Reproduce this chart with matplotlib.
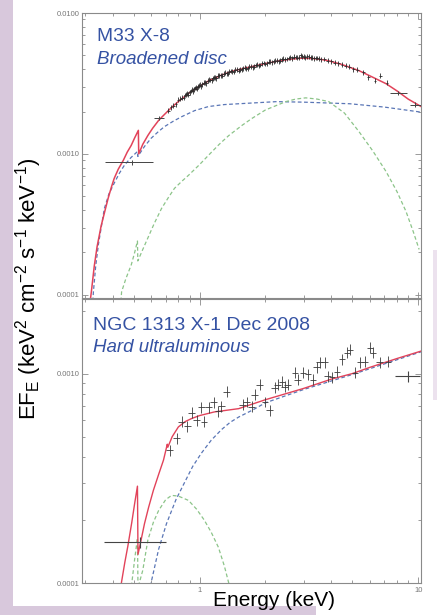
import matplotlib
matplotlib.use("Agg")
import matplotlib.pyplot as plt
from matplotlib.patches import Rectangle
from matplotlib.ticker import FixedLocator, NullFormatter, FixedFormatter
import numpy as np

plt.rcParams['font.family'] = ['Liberation Sans', 'DejaVu Sans']
plt.rcParams['mathtext.fontset'] = 'custom'
plt.rcParams['mathtext.rm'] = 'Liberation Sans'
plt.rcParams['mathtext.it'] = 'Liberation Sans:italic'

# ---------------- Top panel: M33 X-8 (broadened disc) ----------------
top_total_E = [0.316, 0.32, 0.33, 0.34, 0.355, 0.37, 0.382, 0.395, 0.407, 0.425, 0.448, 0.467,
               0.487, 0.505, 0.525, 0.527, 0.55, 0.58, 0.61, 0.65, 0.685, 0.72, 0.765, 0.81,
               0.9, 1.0, 1.1, 1.24, 1.4, 1.6, 1.8, 2.0, 2.3, 2.6, 2.94, 3.3, 3.6, 3.9, 4.5,
               5.36, 6.2, 7.13, 8.0, 9.0, 10.3]
top_total_F = [9e-5, 1.05e-4, 1.6e-4, 2.2e-4, 3.1e-4, 4.0e-4, 4.85e-4, 5.8e-4, 6.7e-4, 7.8e-4,
               9.0e-4, 1.03e-3, 1.15e-3, 1.3e-3, 1.47e-3, 1.0e-3, 1.17e-3, 1.35e-3, 1.52e-3,
               1.73e-3, 1.88e-3, 2.03e-3, 2.22e-3, 2.39e-3, 2.72e-3, 3.02e-3, 3.3e-3, 3.59e-3,
               3.85e-3, 4.05e-3, 4.22e-3, 4.38e-3, 4.57e-3, 4.7e-3, 4.78e-3, 4.75e-3, 4.68e-3,
               4.58e-3, 4.3e-3, 3.9e-3, 3.5e-3, 3.15e-3, 2.8e-3, 2.45e-3, 2.17e-3]

top_disc_E = [0.325, 0.327, 0.335, 0.345, 0.355, 0.367, 0.385, 0.407, 0.43, 0.453, 0.485, 0.52,
              0.522, 0.56, 0.6, 0.645, 0.69, 0.76, 0.83, 0.95, 1.1, 1.3, 1.51, 2.25, 3.0, 4.87,
              7.0, 10.3]
top_disc_F = [9e-5, 1.05e-4, 1.6e-4, 2.3e-4, 3.0e-4, 4.1e-4, 5.2e-4, 6.2e-4, 7.3e-4, 8.3e-4,
              9.4e-4, 1.04e-3, 9.6e-4, 1.13e-3, 1.29e-3, 1.43e-3, 1.56e-3, 1.71e-3, 1.84e-3,
              2.03e-3, 2.17e-3, 2.24e-3, 2.27e-3, 2.35e-3, 2.33e-3, 2.27e-3, 2.15e-3, 1.98e-3]

top_comp_E = [0.437, 0.44, 0.46, 0.487, 0.505, 0.52, 0.522, 0.55, 0.58, 0.62, 0.67, 0.72,
              0.768, 0.83, 0.89, 1.0, 1.1, 1.23, 1.36, 1.56, 1.73, 2.0, 2.48, 2.75, 3.06, 3.45,
              3.9, 4.6, 5.36, 6.2, 7.13, 8.0, 8.8, 9.5, 10.1]
top_comp_F = [9e-5, 1.05e-4, 1.3e-4, 1.63e-4, 2.0e-4, 2.41e-4, 1.74e-4, 2.1e-4, 2.53e-4,
              3.2e-4, 4.1e-4, 4.9e-4, 5.7e-4, 6.4e-4, 7.05e-4, 8.4e-4, 9.8e-4, 1.17e-3,
              1.35e-3, 1.59e-3, 1.78e-3, 2.05e-3, 2.35e-3, 2.45e-3, 2.5e-3, 2.45e-3, 2.35e-3,
              1.95e-3, 1.44e-3, 1.05e-3, 7.5e-4, 5.4e-4, 3.9e-4, 2.8e-4, 2.1e-4]

top_data_E = [0.72, 0.74, 0.76, 0.78, 0.80, 0.815, 0.83, 0.845, 0.86, 0.87, 0.88, 0.89, 0.90,
              0.91, 0.92, 0.93, 0.94, 0.95, 0.96, 0.97, 0.98, 0.99, 1.00, 1.015, 1.03, 1.045,
              1.06, 1.075, 1.09, 1.105, 1.12, 1.135, 1.15, 1.165, 1.18, 1.195, 1.21, 1.23,
              1.25, 1.27, 1.29, 1.31, 1.33, 1.35, 1.37, 1.39, 1.41, 1.435, 1.46, 1.485, 1.51,
              1.535, 1.56, 1.585, 1.61, 1.635, 1.66, 1.69, 1.72, 1.75, 1.78, 1.81, 1.84, 1.87,
              1.90, 1.935, 1.97, 2.0, 2.04, 2.075, 2.11, 2.145, 2.18, 2.22, 2.26, 2.3, 2.34,
              2.38, 2.42, 2.465, 2.51, 2.555, 2.60, 2.65, 2.70, 2.75, 2.80, 2.85, 2.90, 2.95,
              3.00, 3.05, 3.11, 3.165, 3.22, 3.28, 3.34, 3.4, 3.46, 3.52, 3.59, 3.72, 3.86,
              4.00, 4.15, 4.31, 4.48, 4.66, 4.85, 5.05, 5.27, 5.6, 5.9, 6.35, 6.7, 7.2]
top_data_F = [2.03e-3, 2.14e-3, 2.2e-3, 2.25e-3, 2.42e-3, 2.46e-3, 2.5e-3, 2.5e-3, 2.62e-3,
              2.66e-3, 2.7e-3, 2.64e-3, 2.74e-3, 2.8e-3, 2.85e-3, 2.78e-3, 2.88e-3, 2.94e-3,
              2.97e-3, 2.9e-3, 3.0e-3, 3.05e-3, 3.1e-3, 3.02e-3, 3.12e-3, 3.2e-3, 3.22e-3,
              3.18e-3, 3.3e-3, 3.36e-3, 3.35e-3, 3.33e-3, 3.45e-3, 3.5e-3, 3.48e-3, 3.45e-3,
              3.58e-3, 3.63e-3, 3.62e-3, 3.6e-3, 3.72e-3, 3.76e-3, 3.75e-3, 3.72e-3, 3.84e-3,
              3.88e-3, 3.86e-3, 3.84e-3, 3.95e-3, 3.99e-3, 3.9e-3, 3.95e-3, 3.98e-3, 4.07e-3,
              4.1e-3, 4.02e-3, 4.05e-3, 4.16e-3, 4.2e-3, 4.13e-3, 4.15e-3, 4.28e-3, 4.3e-3,
              4.24e-3, 4.28e-3, 4.4e-3, 4.42e-3, 4.35e-3, 4.4e-3, 4.52e-3, 4.5e-3, 4.47e-3,
              4.55e-3, 4.6e-3, 4.62e-3, 4.55e-3, 4.6e-3, 4.7e-3, 4.75e-3, 4.68e-3, 4.72e-3,
              4.8e-3, 4.85e-3, 4.78e-3, 4.9e-3, 4.88e-3, 4.82e-3, 4.84e-3, 5.0e-3, 4.95e-3,
              4.9e-3, 4.86e-3, 4.95e-3, 4.9e-3, 4.85e-3, 4.82e-3, 4.78e-3, 4.8e-3, 4.8e-3,
              4.75e-3, 4.7e-3, 4.72e-3, 4.6e-3, 4.55e-3, 4.45e-3, 4.4e-3, 4.3e-3, 4.22e-3,
              4.15e-3, 4.0e-3, 3.95e-3, 3.8e-3, 3.5e-3, 3.3e-3, 3.59e-3, 3.2e-3]
# wide bins (centre, low edge, high edge, flux)
top_wide_E = [0.49, 0.655, 8.1, 9.7]
top_wide_lo = [0.37, 0.62, 7.45, 9.2]
top_wide_hi = [0.615, 0.69, 8.9, 10.3]
top_wide_F = [8.7e-4, 1.81e-3, 2.72e-3, 2.24e-3]

# ---------------- Bottom panel: NGC 1313 X-1 ----------------
bot_total_E = [0.436, 0.439, 0.455, 0.47, 0.49, 0.505, 0.52, 0.523, 0.54, 0.56, 0.585, 0.615,
               0.65, 0.684, 0.712, 0.716, 0.75, 0.8, 0.86, 0.92, 1.0, 1.17, 1.51, 2.0, 3.0,
               4.0, 5.0, 6.0, 8.0, 10.3]
bot_total_F = [9e-5, 1.0e-4, 1.25e-4, 1.5e-4, 1.95e-4, 2.4e-4, 2.9e-4, 1.37e-4, 1.6e-4,
               1.92e-4, 2.3e-4, 2.77e-4, 3.3e-4, 3.86e-4, 4.6e-4, 4.45e-4, 5.0e-4, 5.56e-4,
               5.9e-4, 6.1e-4, 6.3e-4, 6.56e-4, 6.8e-4, 7.5e-4, 8.5e-4, 9.4e-4, 1.0e-3,
               1.07e-3, 1.18e-3, 1.28e-3]

bot_pl_E = [0.595, 0.6, 0.65, 0.706, 0.78, 0.85, 0.93, 1.02, 1.13, 1.26, 1.38, 1.51, 1.75,
            2.0, 3.0, 5.0, 10.3]
bot_pl_F = [9e-5, 1.0e-4, 1.45e-4, 1.92e-4, 2.5e-4, 2.99e-4, 3.6e-4, 4.17e-4, 4.8e-4, 5.4e-4,
            5.85e-4, 6.2e-4, 6.7e-4, 7.25e-4, 8.4e-4, 9.9e-4, 1.27e-3]

bot_soft_E = [0.486, 0.49, 0.505, 0.52, 0.523, 0.55, 0.58, 0.615, 0.65, 0.7, 0.745, 0.8,
              0.89, 0.97, 1.05, 1.13, 1.22, 1.3, 1.36, 1.38]
bot_soft_F = [9e-5, 1.0e-4, 1.3e-4, 1.64e-4, 9.5e-5, 1.15e-4, 1.6e-4, 1.95e-4, 2.22e-4,
              2.5e-4, 2.62e-4, 2.6e-4, 2.48e-4, 2.25e-4, 2.0e-4, 1.75e-4, 1.48e-4, 1.2e-4,
              1.0e-4, 9.5e-5]

bot_data_E = [0.73, 0.785, 0.83, 0.88, 0.92, 0.97, 1.02, 1.05, 1.1, 1.16, 1.22, 1.26, 1.33,
              1.575, 1.64, 1.73, 1.79, 1.885, 1.99, 2.09, 2.21, 2.28, 2.38, 2.45, 2.53, 2.73,
              2.81, 2.97, 3.13, 3.3, 3.44, 3.55, 3.74, 3.86, 4.03, 4.25, 4.48, 4.72, 4.88,
              5.14, 5.42, 5.71, 6.02, 6.21, 6.68, 7.27]
bot_data_F = [4.3e-4, 4.9e-4, 5.9e-4, 5.6e-4, 6.5e-4, 6.0e-4, 6.9e-4, 5.9e-4, 6.9e-4, 7.3e-4,
              6.6e-4, 7.0e-4, 8.2e-4, 7.1e-4, 7.33e-4, 6.94e-4, 7.93e-4, 8.85e-4, 7.33e-4,
              6.7e-4, 8.57e-4, 8.85e-4, 9.15e-4, 8.66e-4, 8.85e-4, 1.01e-3, 9.36e-4, 1.01e-3,
              9.9e-4, 9.36e-4, 1.07e-3, 1.13e-3, 1.13e-3, 9.7e-4, 9.6e-4, 1.02e-3, 1.17e-3,
              1.26e-3, 1.30e-3, 1.01e-3, 1.13e-3, 1.14e-3, 1.33e-3, 1.26e-3, 1.13e-3, 1.14e-3]
bot_wide_E = [0.536, 8.97]
bot_wide_lo = [0.367, 7.84]
bot_wide_hi = [0.706, 10.2]
bot_wide_F = [1.57e-4, 9.7e-4]

y_tick_vals = [1e-4, 1e-3, 1e-2]
y_tick_labels = ["0.0001", "0.0010", "0.0100"]
x_tick_vals = [1, 10]
x_tick_labels = ["1", "10"]

RED = '#e2435a'
BLUE = '#5a76b6'
GREEN = '#8cc489'
DATA = '#2b2b2b'
TITLE = '#3552a3'
GREY = '#8a8a8a'

W, H = 438, 615
fig = plt.figure(figsize=(W / 100, H / 100), dpi=100)
fig.patch.set_facecolor('white')
# decorative lavender background bands
fig.patches.append(Rectangle((0, 0), 13 / W, 1, transform=fig.transFigure,
                             facecolor='#d8c8dc', edgecolor='none', zorder=0))
fig.patches.append(Rectangle((0, 0), 316 / W, 9 / H, transform=fig.transFigure,
                             facecolor='#d8c8dc', edgecolor='none', zorder=0))
fig.patches.append(Rectangle((433 / W, 1 - 400 / H), 4 / W, 150 / H, transform=fig.transFigure,
                             facecolor='#ece2ee', edgecolor='none', zorder=0))

axL, axR = 82 / W, 421 / W
ax1 = fig.add_axes([axL, 1 - 298 / H, axR - axL, (298 - 13) / H])
ax2 = fig.add_axes([axL, 1 - 583 / H, axR - axL, (583 - 299) / H])


def style(ax, ylo, yhi, show_x):
    ax.set_xscale('log')
    ax.set_yscale('log')
    ax.set_xlim(0.29, 10.3)
    ax.set_ylim(ylo, yhi)
    for s in ax.spines.values():
        s.set_color(GREY)
        s.set_linewidth(0.8)
    ax.tick_params(which='both', direction='in', top=True, right=True, colors=GREY,
                   labelsize=5.5, labelcolor='#777777', width=0.6)
    ax.tick_params(which='major', length=4.5)
    ax.tick_params(which='minor', length=2.5)
    ax.xaxis.set_major_locator(FixedLocator(x_tick_vals))
    ax.xaxis.set_minor_locator(FixedLocator([0.3, 0.4, 0.5, 0.6, 0.7, 0.8, 0.9,
                                             2, 3, 4, 5, 6, 7, 8, 9]))
    ax.xaxis.set_minor_formatter(NullFormatter())
    if show_x:
        ax.xaxis.set_major_formatter(FixedFormatter(x_tick_labels))
    else:
        ax.xaxis.set_major_formatter(NullFormatter())
    ax.yaxis.set_major_locator(FixedLocator(y_tick_vals))
    ax.yaxis.set_major_formatter(FixedFormatter(y_tick_labels))
    ax.yaxis.set_minor_locator(FixedLocator([m * 10.0 ** d for d in (-4, -3) for m in range(2, 10)]))
    ax.yaxis.set_minor_formatter(NullFormatter())
    ax.tick_params(axis='y', pad=2)
    ax.tick_params(axis='x', pad=3)


style(ax1, 0.95e-4, 1.0e-2, False)
style(ax2, 1.0e-4, 2.27e-3, True)

# top panel
ax1.plot(top_disc_E, top_disc_F, ls=(0, (3, 2)), color=BLUE, lw=0.9)
ax1.plot(top_comp_E, top_comp_F, ls=(0, (3, 2)), color=GREEN, lw=0.9)
ax1.plot(top_total_E, top_total_F, color=RED, lw=1.1)
te = np.array(top_data_E)
tf = np.array(top_data_F)
ax1.errorbar(te, tf, xerr=[te * 0.015, te * 0.015], yerr=[tf * 0.04, tf * 0.04],
             fmt='none', ecolor=DATA, elinewidth=0.6)
we = np.array(top_wide_E)
wf = np.array(top_wide_F)
ax1.errorbar(we, wf, xerr=[we - np.array(top_wide_lo), np.array(top_wide_hi) - we],
             yerr=[wf * 0.035, wf * 0.035], fmt='none', ecolor='#444444', elinewidth=0.7)
ax1.text(0.044, 0.902, 'M33 X-8', transform=ax1.transAxes, color=TITLE, fontsize=13.8)
ax1.text(0.044, 0.821, 'Broadened disc', transform=ax1.transAxes, color=TITLE,
         fontsize=13.5, style='italic')

# bottom panel
ax2.plot(bot_soft_E, bot_soft_F, ls=(0, (3, 2)), color=GREEN, lw=0.9)
ax2.plot(bot_pl_E, bot_pl_F, ls=(0, (3, 2)), color=BLUE, lw=0.9)
ax2.plot(bot_total_E, bot_total_F, color=RED, lw=1.0)
be = np.array(bot_data_E)
bf = np.array(bot_data_F)
ax2.errorbar(be, bf, xerr=[be * 0.035, be * 0.035], yerr=[bf * 0.06, bf * 0.06],
             fmt='none', ecolor='#3a3a3a', elinewidth=0.6)
bwe = np.array(bot_wide_E)
bwf = np.array(bot_wide_F)
ax2.errorbar(bwe, bwf, xerr=[bwe - np.array(bot_wide_lo), np.array(bot_wide_hi) - bwe],
             yerr=[bwf * 0.06, bwf * 0.06], fmt='none', ecolor='#444444', elinewidth=0.8)
ax2.text(0.032, 0.891, 'NGC 1313 X-1 Dec 2008', transform=ax2.transAxes, color=TITLE,
         fontsize=14)
ax2.text(0.032, 0.813, 'Hard ultraluminous', transform=ax2.transAxes, color=TITLE,
         fontsize=13.5, style='italic')

fig.text(274 / W, 1 - 601 / H, 'Energy (keV)', ha='center', va='center', fontsize=15,
         color='black')
fig.text(29 / W, 1 - 289 / H,
         r'EF$_{\mathrm{E}}$ (keV$^{2}$ cm$^{-2}$ s$^{-1}$ keV$^{-1}$)',
         ha='center', va='center', rotation=90, fontsize=16, color='black')

fig.savefig('out.png', dpi=100, facecolor=fig.get_facecolor())
